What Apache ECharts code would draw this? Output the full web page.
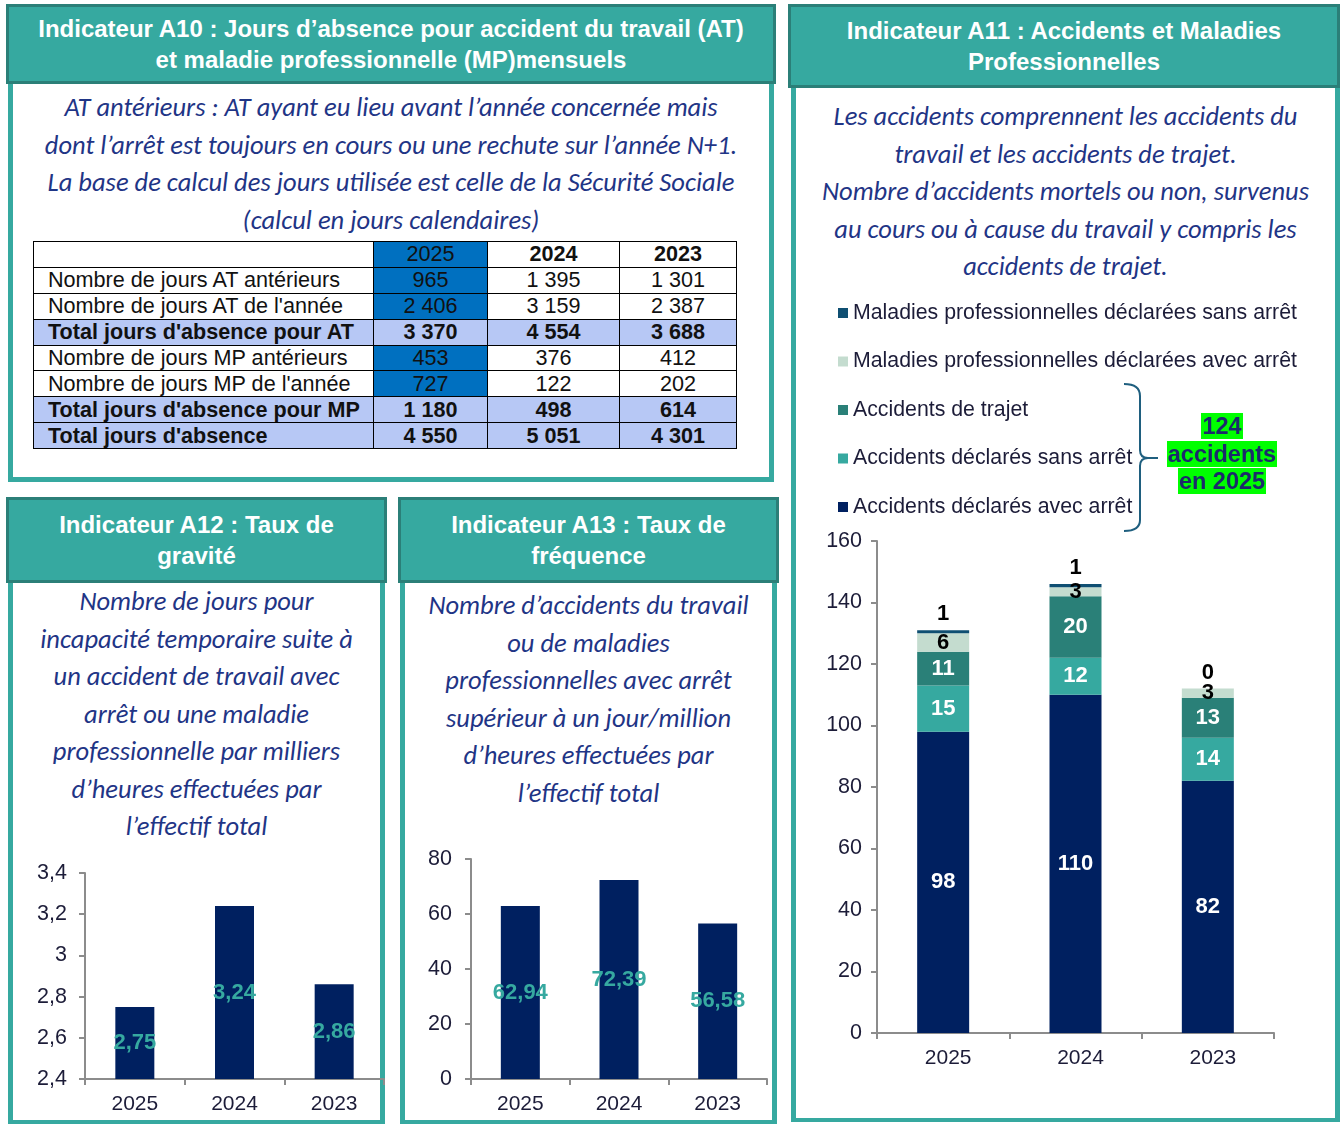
<!DOCTYPE html>
<html>
<head>
<meta charset="utf-8">
<script src="https://cdn.jsdelivr.net/npm/echarts@6/dist/echarts.min.js"></script>
<style>
  body { margin: 0; width: 1343px; height: 1124px; position: relative; overflow: hidden; background: #fff; font-family: 'Liberation Sans', Arial, sans-serif; }
  .hd { position: absolute; box-sizing: border-box; background: #36a9a0; border: 3px solid #2b7f78; color: #fff; font-weight: bold; font-size: 24px; line-height: 31px; text-align: center; display: flex; align-items: center; justify-content: center; }
  .bd { position: absolute; box-sizing: border-box; border: 5px solid #36a9a0; border-top: none; }
  .it { position: absolute; font-family: Carlito, Lato, 'Open Sans', sans-serif; font-style: italic; color: #1f3586; font-size: 26.5px; line-height: 37.5px; text-align: center; }
  #tbl { position: absolute; left: 33px; top: 241px; width: 703px; table-layout: fixed; border-collapse: collapse; font-size: 21.6px; color: #111; }
  #tbl tr { height: 25.9px; }
  #tbl td { border: 1.5px solid #000; padding: 0; text-align: center; line-height: 22px; white-space: nowrap; overflow: hidden; }
  #tbl td.lab { text-align: left; padding-left: 14px; }
  #tbl tr.tot td { background: #b7c8f5; font-weight: bold; }
  #tbl td.c25 { background: #0070c0; }
  #tbl tr.hdr td { font-weight: bold; }
  #tbl tr.hdr td.c25 { font-weight: normal; }
  #chart { position: absolute; left: 0; top: 0; width: 1343px; height: 1124px; z-index: 2; }
  #brace { position: absolute; left: 0; top: 0; z-index: 3; }
  #hl { position: absolute; left: 1142px; top: 413px; width: 160px; text-align: center; z-index: 3; font-weight: bold; font-size: 23.5px; color: #1b2a6b; line-height: 27.5px; }
  #hl span { background: #00ff00; padding: 0 1px; }
</style>
</head>
<body>
<div class="hd" style="left:6px;top:4px;width:770px;height:80px;">Indicateur A10 : Jours d’absence pour accident du travail (AT)<br>et maladie professionnelle (MP)mensuels</div>
<div class="bd" style="left:8px;top:84px;width:766px;height:398px;"></div>
<div class="it" style="left:13px;top:89px;width:756px;">AT antérieurs : AT ayant eu lieu avant l’année concernée mais<br>dont l’arrêt est toujours en cours ou une rechute sur l’année N+1.<br>La base de calcul des jours utilisée est celle de la Sécurité Sociale<br>(calcul en jours calendaires)</div>
<table id="tbl"></table>

<div class="hd" style="left:788px;top:4px;width:552px;height:84px;">Indicateur A11 : Accidents et Maladies<br>Professionnelles</div>
<div class="bd" style="left:791px;top:88px;width:549px;height:1034px;border-bottom-width:4px;"></div>
<div class="it" style="left:796px;top:98px;width:539px;">Les accidents comprennent les accidents du<br>travail et les accidents de trajet.<br>Nombre d’accidents mortels ou non, survenus<br>au cours ou à cause du travail y compris les<br>accidents de trajet.</div>

<div class="hd" style="left:6px;top:497px;width:381px;height:86px;">Indicateur A12 : Taux de<br>gravité</div>
<div class="bd" style="left:8px;top:583px;width:377px;height:541px;border-bottom-width:4px;"></div>
<div class="it" style="left:13px;top:583px;width:367px;">Nombre de jours pour<br>incapacité temporaire suite à<br>un accident de travail avec<br>arrêt ou une maladie<br>professionnelle par milliers<br>d’heures effectuées par<br>l’effectif total</div>

<div class="hd" style="left:398px;top:497px;width:381px;height:86px;">Indicateur A13 : Taux de<br>fréquence</div>
<div class="bd" style="left:400px;top:583px;width:377px;height:541px;border-bottom-width:4px;"></div>
<div class="it" style="left:405px;top:587px;width:367px;">Nombre d’accidents du travail<br>ou de maladies<br>professionnelles avec arrêt<br>supérieur à un jour/million<br>d’heures effectuées par<br>l’effectif total</div>

<svg id="brace" width="1343" height="1124"><path d="M1124,384 Q1140,384 1140,396 L1140,450 Q1140,458 1148,458 L1158,458 M1148,458 Q1140,458 1140,466 L1140,520 Q1140,531 1124,531" fill="none" stroke="#1f5f7f" stroke-width="2"/></svg>
<div id="hl"><span>124</span><br><span>accidents</span><br><span>en 2025</span></div>
<div id="chart"></div>

<script>
// years shown everywhere
const years = ['2025', '2024', '2023'];

// A10 table
const tableLabels = [
  "Nombre de jours AT antérieurs",
  "Nombre de jours AT de l'année",
  "Total jours d'absence pour AT",
  "Nombre de jours MP antérieurs",
  "Nombre de jours MP de l'année",
  "Total jours d'absence pour MP",
  "Total jours d'absence"
];
const joursATAnterieurs = [965, 1395, 1301];
const joursATAnnee = [2406, 3159, 2387];
const totalAT = [3370, 4554, 3688];
const joursMPAnterieurs = [453, 376, 412];
const joursMPAnnee = [727, 122, 202];
const totalMP = [1180, 498, 614];
const totalAbsence = [4550, 5051, 4301];
const totalRows = [2, 5, 6];

// A11 stacked bars
const accAvecArret = [98, 110, 82];
const accSansArret = [15, 12, 14];
const accTrajet = [11, 20, 13];
const mpAvecArret = [6, 3, 3];
const mpSansArret = [1, 1, 0];
const a11Names = [
  'Accidents déclarés avec arrêt',
  'Accidents déclarés sans arrêt',
  'Accidents de trajet',
  'Maladies professionnelles déclarées avec arrêt',
  'Maladies professionnelles déclarées sans arrêt'
];
const a11Colors = ['#002060', '#36a9a0', '#2a8078', '#c4dccf', '#0f4f72'];

// A12 / A13
const tauxGravite = [2.75, 3.24, 2.86];
const tauxFrequence = [62.94, 72.39, 56.58];

// ---- table
function fmt(n) {
  return String(n).replace(/\B(?=(\d{3})+(?!\d))/g, ' ');
}
const tableValues = [joursATAnterieurs, joursATAnnee, totalAT, joursMPAnterieurs, joursMPAnnee, totalMP, totalAbsence];
let html = '<colgroup><col style="width:340px"><col style="width:114px"><col style="width:132px"><col style="width:117px"></colgroup>';
html += '<tr class="hdr"><td></td>' +
  years.map((y, i) => '<td class="' + (i === 0 ? 'c25' : '') + '">' + y + '</td>').join('') + '</tr>';
tableLabels.forEach((lab, r) => {
  html += '<tr class="' + (totalRows.includes(r) ? 'tot' : '') + '"><td class="lab">' + lab + '</td>' +
    tableValues[r].map((v, i) => '<td class="' + (i === 0 ? 'c25' : '') + '">' + fmt(v) + '</td>').join('') + '</tr>';
});
document.getElementById('tbl').innerHTML = html;

// ---- charts
const chart = echarts.init(document.getElementById('chart'));
const axisCol = '#8c8c8c';
const txtCol = '#1c1c38';
const comma = v => String(Math.round(v * 100) / 100).replace('.', ',');

function xAx(idx, margin, shift) {
  return {
    type: 'category', gridIndex: idx, data: years,
    axisLine: { lineStyle: { color: axisCol, width: 2 } },
    axisTick: { show: true, length: 6, lineStyle: { color: axisCol, width: 2 } },
    axisLabel: { fontSize: 21, color: txtCol, margin: margin, padding: [0, 0, 0, shift], fontFamily: 'Liberation Sans' }
  };
}
function yAx(idx, min, max, interval, margin, fmtFn) {
  return {
    type: 'value', gridIndex: idx, min: min, max: max, interval: interval,
    axisLine: { show: true, lineStyle: { color: axisCol, width: 2 } },
    axisTick: { show: true, length: 6, lineStyle: { color: axisCol, width: 2 } },
    splitLine: { show: false },
    axisLabel: { fontSize: 21.5, color: txtCol, margin: margin, fontFamily: 'Liberation Sans', formatter: fmtFn }
  };
}

const a11Data = [accAvecArret, accSansArret, accTrajet, mpAvecArret, mpSansArret];
const a11Series = a11Data.map((d, i) => ({
  type: 'bar', name: a11Names[i], stack: 'a11', xAxisIndex: 0, yAxisIndex: 0,
  barWidth: 52, data: d, itemStyle: { color: a11Colors[i] },
  label: {
    show: true,
    position: i === 4 ? 'top' : 'inside',
    distance: 5,
    color: i >= 3 ? '#000' : '#fff',
    fontWeight: 'bold', fontSize: 22, fontFamily: 'Liberation Sans'
  }
}));

const rateLabel = {
  show: true, position: 'inside', color: '#36a9a0', fontWeight: 'bold', fontSize: 22,
  fontFamily: 'Liberation Sans', formatter: p => comma(p.value)
};

chart.setOption({
  backgroundColor: 'transparent',
  animation: false,
  legend: {
    data: a11Names.slice().reverse(),
    orient: 'vertical', left: 833, top: 297,
    icon: 'rect', itemWidth: 10, itemHeight: 10, itemGap: 26.5,
    selectedMode: false,
    textStyle: { fontSize: 21.3, color: txtCol, lineHeight: 22, fontFamily: 'Liberation Sans' }
  },
  grid: [
    { left: 877, top: 541, width: 397, height: 492 },
    { left: 85, top: 873, width: 299, height: 206 },
    { left: 471, top: 859, width: 296, height: 220 }
  ],
  xAxis: [xAx(0, 15, 10), xAx(1, 15, 0), xAx(2, 15, 0)],
  yAxis: [
    yAx(0, 0, 160, 20, 15),
    yAx(1, 2.4, 3.4, 0.2, 18, comma),
    yAx(2, 0, 80, 20, 19)
  ],
  series: a11Series.concat([
    { type: 'bar', xAxisIndex: 1, yAxisIndex: 1, barWidth: 39, data: tauxGravite, itemStyle: { color: '#002060' }, label: rateLabel },
    { type: 'bar', xAxisIndex: 2, yAxisIndex: 2, barWidth: 39, data: tauxFrequence, itemStyle: { color: '#002060' }, label: rateLabel }
  ])
});
</script>
</body>
</html>
